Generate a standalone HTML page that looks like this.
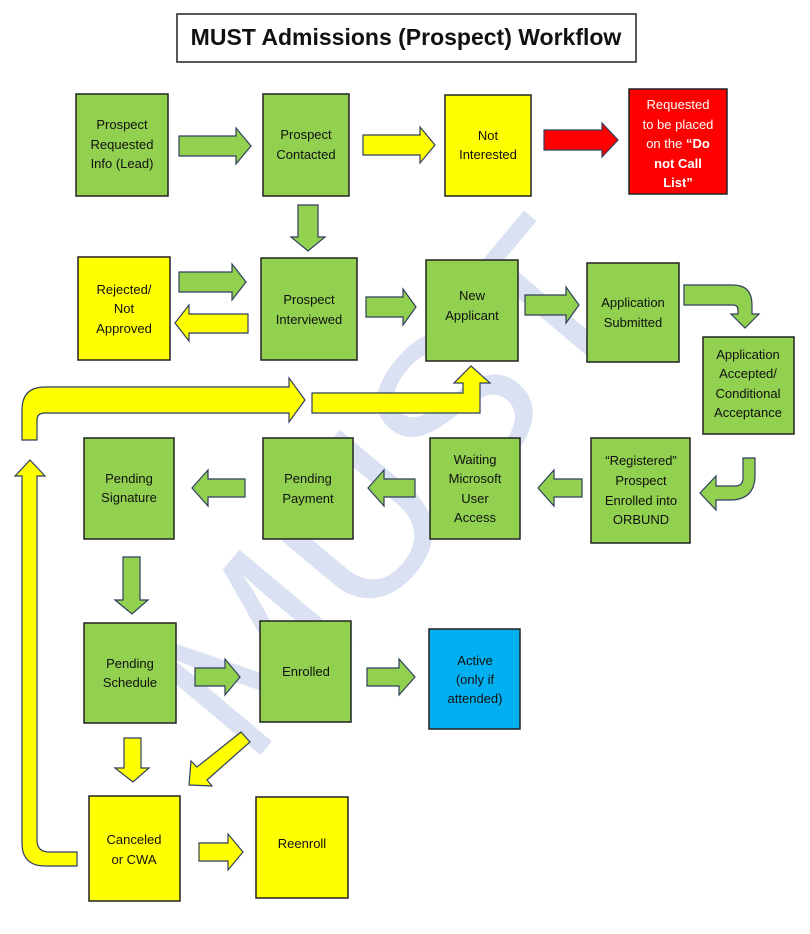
<!DOCTYPE html>
<html><head><meta charset="utf-8"><style>
body{margin:0;background:#fff}
svg{display:block}
text{font-family:"Liberation Sans",sans-serif;font-size:13px;fill:#111;text-anchor:middle}
.g{fill:#92d050;stroke:#222;stroke-width:1.5}
.y{fill:#ffff00;stroke:#222;stroke-width:1.5}
.ga{fill:#92d050;stroke:#2f3f5f;stroke-width:1.2}
.ya{fill:#ffff00;stroke:#2f3f5f;stroke-width:1.2}
</style></head><body>
<svg width="810" height="934" viewBox="0 0 810 934">
<g transform="translate(385,485) rotate(-50)">
<text x="0" y="78" style="font-size:215px;fill:#d9e1f2">MUST</text>
</g>

<rect x="177" y="14" width="459" height="48" fill="#fff" stroke="#222" stroke-width="1.5"/>
<text x="406" y="45" style="font-size:23px;font-weight:bold">MUST Admissions (Prospect) Workflow</text>

<rect class="g" x="76" y="94" width="92" height="102"/>
<text x="122" y="129">Prospect</text><text x="122" y="149">Requested</text><text x="122" y="168">Info (Lead)</text>
<rect class="g" x="263" y="94" width="86" height="102"/>
<text x="306" y="139">Prospect</text><text x="306" y="159">Contacted</text>
<rect class="y" x="445" y="95" width="86" height="101"/>
<text x="488" y="140">Not</text><text x="488" y="159">Interested</text>
<rect x="629" y="89" width="98" height="105" fill="#ff0000" stroke="#222" stroke-width="1.5"/>
<text x="678" y="109" style="fill:#fff">Requested</text><text x="678" y="129" style="fill:#fff">to be placed</text>
<text x="678" y="148" style="fill:#fff">on the <tspan font-weight="bold">“Do</tspan></text>
<text x="678" y="168" style="fill:#fff;font-weight:bold">not Call</text><text x="678" y="187" style="fill:#fff;font-weight:bold">List”</text>

<rect class="y" x="78" y="257" width="92" height="103"/>
<text x="124" y="294">Rejected/</text><text x="124" y="313">Not</text><text x="124" y="333">Approved</text>
<rect class="g" x="261" y="258" width="96" height="102"/>
<text x="309" y="304">Prospect</text><text x="309" y="324">Interviewed</text>
<rect class="g" x="426" y="260" width="92" height="101"/>
<text x="472" y="300">New</text><text x="472" y="320">Applicant</text>
<rect class="g" x="587" y="263" width="92" height="99"/>
<text x="633" y="307">Application</text><text x="633" y="327">Submitted</text>
<rect class="g" x="703" y="337" width="91" height="97"/>
<text x="748" y="359">Application</text><text x="748" y="378">Accepted/</text><text x="748" y="398">Conditional</text><text x="748" y="417">Acceptance</text>

<rect class="g" x="84" y="438" width="90" height="101"/>
<text x="129" y="483">Pending</text><text x="129" y="502">Signature</text>
<rect class="g" x="263" y="438" width="90" height="101"/>
<text x="308" y="483">Pending</text><text x="308" y="503">Payment</text>
<rect class="g" x="430" y="438" width="90" height="101"/>
<text x="475" y="464">Waiting</text><text x="475" y="483">Microsoft</text><text x="475" y="503">User</text><text x="475" y="522">Access</text>
<rect class="g" x="591" y="438" width="99" height="105"/>
<text x="641" y="465">“Registered”</text><text x="641" y="485">Prospect</text><text x="641" y="505">Enrolled into</text><text x="641" y="524">ORBUND</text>

<rect class="g" x="84" y="623" width="92" height="100"/>
<text x="130" y="668">Pending</text><text x="130" y="687">Schedule</text>
<rect class="g" x="260" y="621" width="91" height="101"/>
<text x="306" y="676">Enrolled</text>
<rect x="429" y="629" width="91" height="100" fill="#00b0f0" stroke="#222" stroke-width="1.5"/>
<text x="475" y="665">Active</text><text x="475" y="684">(only if</text><text x="475" y="703">attended)</text>
<rect class="y" x="89" y="796" width="91" height="105"/>
<text x="134" y="844">Canceled</text><text x="134" y="864">or CWA</text>
<rect class="y" x="256" y="797" width="92" height="101"/>
<text x="302" y="848">Reenroll</text>

<polygon class="ga" points="179,136 236,136 236,128 251,146 236,164 236,156 179,156"/>
<polygon class="ya" points="363,135 420,135 420,127 435,145 420,163 420,155 363,155"/>
<polygon fill="#ff0000" stroke="#2f3f5f" stroke-width="1.2" points="544,130 602,130 602,123 618,140 602,157 602,150 544,150"/>
<polygon class="ga" points="298,205 318,205 318,237 325,237 308,251 291,237 298,237"/>
<polygon class="ga" points="179,272 232,272 232,264 246,282 232,300 232,292 179,292"/>
<polygon class="ya" points="248,314 189,314 189,305 175,323 189,341 189,333 248,333"/>
<polygon class="ga" points="366,297 403,297 403,289 416,307 403,325 403,317 366,317"/>
<polygon class="ga" points="525,295 566,295 566,287 579,305 566,323 566,315 525,315"/>
<path class="ga" d="M684,285 H733 Q752,285 752,305 V314 H759 L745,328 L731,314 H738 V310 Q738,305 733,305 H684 Z"/>
<path class="ya" d="M22,440 V410 Q22,387 45,387 H289 V378 L305,400 L289,422 V413 H45 Q37,413 37,420 V440 Z"/>
<polygon class="ya" points="312,393 463,393 463,383 454,383 471,366 490,383 480,383 480,413 312,413"/>
<path class="ya" d="M22,476 H15 L30,460 L45,476 H37 V840 Q37,852 49,852 H77 V866 H45 Q22,866 22,843 Z"/>
<path class="ga" d="M743,458 H755 V475 Q755,500 730,500 H716 V510 L700,493 L716,476 V486 H735 Q743,486 743,478 Z"/>
<polygon class="ga" points="582,479 554,479 554,470 538,488 554,506 554,497 582,497"/>
<polygon class="ga" points="415,479 384,479 384,470 368,488 384,506 384,497 415,497"/>
<polygon class="ga" points="245,479 208,479 208,470 192,488 208,506 208,497 245,497"/>
<polygon class="ga" points="123,557 140,557 140,600 148,600 132,614 115,600 123,600"/>
<polygon class="ga" points="195,668 225,668 225,659 240,677 225,695 225,686 195,686"/>
<polygon class="ga" points="367,668 399,668 399,659 415,677 399,695 399,686 367,686"/>
<polygon class="ya" points="124,738 141,738 141,768 149,768 133,782 115,768 124,768"/>
<polygon class="ya" points="241,732 250,742 207,780 212,786 189,785 191,761 197,767"/>
<polygon class="ya" points="199,843 228,843 228,834 243,852 228,870 228,861 199,861"/>
</svg>
</body></html>
